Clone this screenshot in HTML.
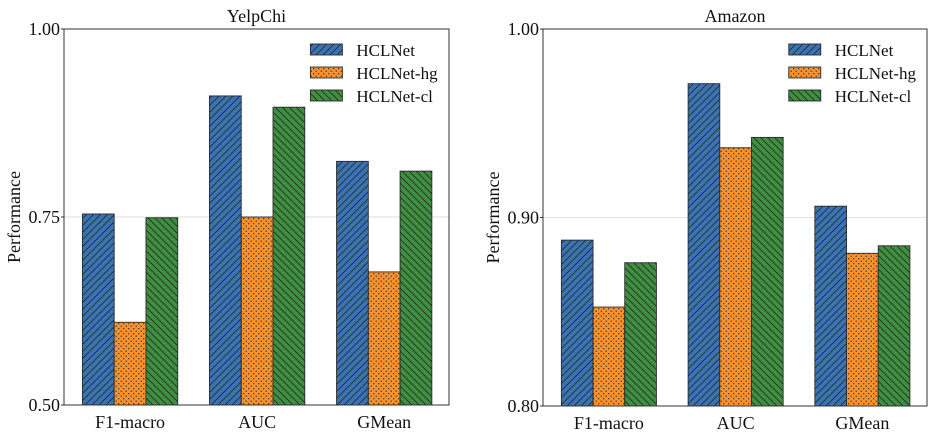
<!DOCTYPE html>
<html><head><meta charset="utf-8">
<style>
html,body{margin:0;padding:0;background:#fff;}
svg{display:block;font-family:"Liberation Serif",serif;}
</style></head>
<body>
<svg id="fig" width="935" height="434" viewBox="0 0 935 434" xmlns="http://www.w3.org/2000/svg">
<defs>
<pattern id="hatchBlue" patternUnits="userSpaceOnUse" width="7" height="7">
<rect width="7" height="7" fill="#3a72b2"/>
<path d="M-1,1 l2,-2 M0,7 l7,-7 M6,8 l2,-2" stroke="#1a1a1a" stroke-width="0.7"/>
</pattern>
<pattern id="hatchGreen" patternUnits="userSpaceOnUse" width="7" height="7">
<rect width="7" height="7" fill="#3f8e42"/>
<path d="M-1,6 l2,2 M0,0 l7,7 M6,-1 l2,2" stroke="#1a1a1a" stroke-width="0.7"/>
</pattern>
<pattern id="dotsOrange" patternUnits="userSpaceOnUse" width="5" height="5">
<rect width="5" height="5" fill="#f7922e"/>
<circle cx="1.2" cy="1.2" r="0.7" fill="#333"/>
<circle cx="3.7" cy="3.7" r="0.7" fill="#333"/>
</pattern>
</defs>
</svg>
<script>
const categories = ["F1-macro","AUC","GMean"];
const seriesNames = ["HCLNet","HCLNet-hg","HCLNet-cl"];
const yelpHCLNet = [0.754, 0.911, 0.824];
const yelpHg = [0.610, 0.750, 0.677];
const yelpCl = [0.749, 0.896, 0.811];
const amazonHCLNet = [0.888, 0.971, 0.906];
const amazonHg = [0.8525, 0.937, 0.881];
const amazonCl = [0.876, 0.9425, 0.885];
const yelpTicks = [0.50, 0.75, 1.00];
const amazonTicks = [0.80, 0.90, 1.00];

const NS = "http://www.w3.org/2000/svg";
const svg = document.getElementById("fig");
const fills = ["url(#hatchBlue)","url(#dotsOrange)","url(#hatchGreen)"];
function mk(tag, attrs, parent){
  const e = document.createElementNS(NS, tag);
  for (const k in attrs) e.setAttribute(k, attrs[k]);
  (parent||svg).appendChild(e);
  return e;
}
function panel(key, title, x0, x1, y0, y1, ymin, ymax, ticks, series){
  const g = mk("g", {});
  
  
  const xs = v => x0 + (v + 0.52) / 3.03 * (x1 - x0);
  const ys = v => y1 - (v - ymin) / (ymax - ymin) * (y1 - y0);
  const unit = (x1 - x0) / 3.03;
  const bw = unit * 0.25;
  ticks.forEach(t => {
    if (t > ymin && t < ymax) {
      const gl = mk("line", {x1:x0, x2:x1, y1:ys(t), y2:ys(t), stroke:"#e3e3e3", "stroke-width":1.2}, g);
      
      
    }
  });
  series.forEach((vals, si) => {
    vals.forEach((v, ci) => {
      const bx = xs(ci) + (si - 1) * bw - bw / 2;
      const r = mk("rect", {x:bx, y:ys(v), width:bw, height:ys(ymin) - ys(v), fill:fills[si], stroke:"#2a2a2a", "stroke-width":0.9}, g);
      
      
    });
  });
  const fr = mk("rect", {x:x0, y:y0, width:x1 - x0, height:y1 - y0, fill:"none", stroke:"#333", "stroke-width":1}, g);
  
  
  ticks.forEach(t => {
    mk("line", {x1:x0 - 3, x2:x0, y1:ys(t), y2:ys(t), stroke:"#333", "stroke-width":1}, g);
    const tl = mk("text", {x:x0 - 4, y:ys(t) + 6, "text-anchor":"end", "font-size":18, fill:"#111"}, g);
    tl.textContent = t.toFixed(2);
    
    
  });
  categories.forEach((c, ci) => {
    const xl = mk("text", {x:xs(ci), y:y1 + 23, "text-anchor":"middle", "font-size":18, fill:"#111"}, g);
    xl.textContent = c;
    
    
  });
  const tt = mk("text", {x:(x0 + x1) / 2, y:y0 - 7, "text-anchor":"middle", "font-size":18, fill:"#111"}, g);
  tt.textContent = title;
  
  
  const yt = mk("text", {x:0, y:0, "text-anchor":"middle", "font-size":18, fill:"#111", transform:"translate(" + (x0 - 44) + "," + ((y0 + y1) / 2) + ") rotate(-90)"}, g);
  yt.textContent = "Performance";
  
  
  const lx = x0 + (x1 - x0) * 0.64;
  seriesNames.forEach((n, si) => {
    const ly = y0 + 15 + si * 23;
    const lp = mk("rect", {x:lx, y:ly, width:32, height:11, fill:fills[si], stroke:"#2a2a2a", "stroke-width":0.9}, g);
    
    
    const lt = mk("text", {x:lx + 46, y:ly + 12, "font-size":17, fill:"#111"}, g);
    lt.textContent = n;
    
    
  });
}
panel("yelpchi", "YelpChi", 64, 449, 29, 405, 0.5, 1.0, yelpTicks, [yelpHCLNet, yelpHg, yelpCl]);
panel("amazon", "Amazon", 543, 927, 29, 406, 0.8, 1.0, amazonTicks, [amazonHCLNet, amazonHg, amazonCl]);
</script>
</body></html>
